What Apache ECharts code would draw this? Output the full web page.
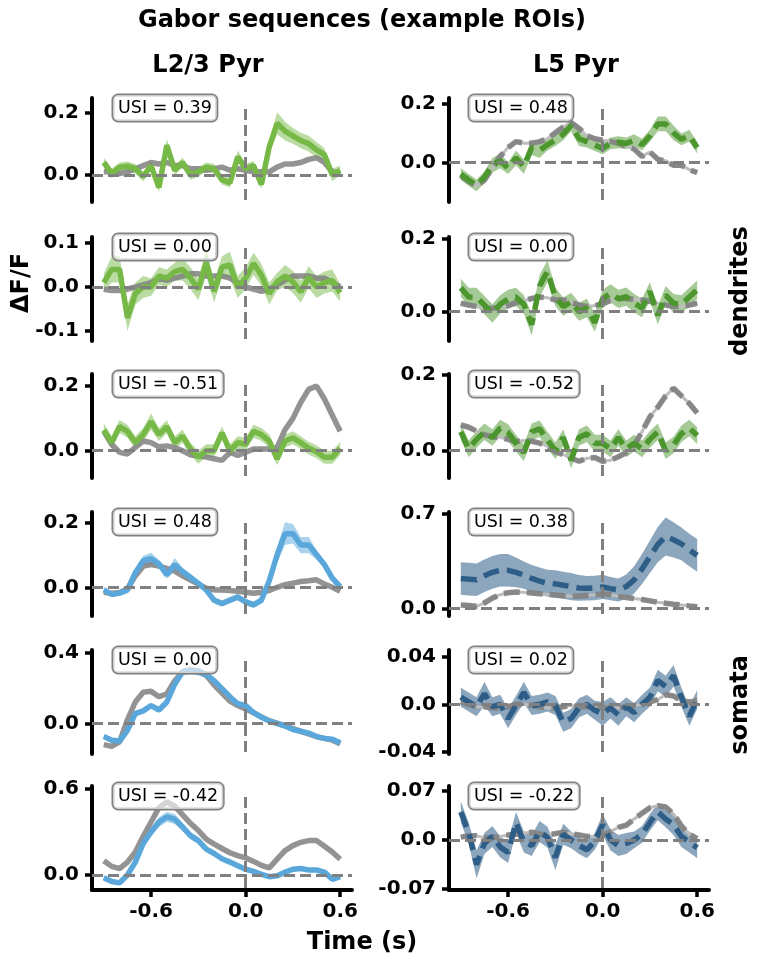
<!DOCTYPE html>
<html><head><meta charset="utf-8">
<script src="https://cdn.jsdelivr.net/npm/echarts@6/dist/echarts.min.js"></script>
<style>html,body{margin:0;padding:0;background:#fff}#c{width:766px;height:967px}</style>
</head><body><div id="c"></div>
<script>
// ---------------- DATA ----------------
const TIME = [-0.9,-0.85,-0.8,-0.75,-0.7,-0.65,-0.6,-0.55,-0.5,-0.45,-0.4,-0.35,-0.3,-0.25,-0.2,-0.15,-0.1,-0.05,0,0.05,0.1,0.15,0.2,0.25,0.3,0.35,0.4,0.45,0.5,0.55,0.6];
const X_TICKS = [-0.6, 0.0, 0.6];

// Dendrites, L2/3 Pyr
const D23_1_EXP   = [0.01,0.01,0.005,0.01,0.02,0.03,0.04,0.035,0.04,0.03,0.03,0.02,0.02,0.015,0.02,0.025,0.015,0.02,0.015,0.01,0.01,0.01,0.025,0.035,0.035,0.04,0.05,0.055,0.04,0.01,0.005];
const D23_1_UNEXP = [0.04,0.005,0.025,0.028,0.02,-0.005,0.03,-0.04,0.095,0.015,0.04,0.0,0.01,0.025,0.02,-0.015,-0.025,0.058,0.02,0.03,-0.03,0.09,0.165,0.14,0.125,0.11,0.10,0.08,0.065,0.0,0.015];
const D23_1_SEM   = [0.015,0.015,0.015,0.015,0.015,0.015,0.015,0.015,0.02,0.015,0.015,0.015,0.015,0.015,0.015,0.015,0.015,0.02,0.015,0.015,0.015,0.02,0.035,0.03,0.025,0.025,0.025,0.025,0.02,0.02,0.015];
const D23_2_EXP   = [-0.005,-0.008,-0.008,-0.005,0.0,0.005,0.01,0.02,0.015,0.02,0.025,0.03,0.03,0.025,0.025,0.025,0.02,0.01,0.0,-0.005,-0.01,-0.005,0.005,0.015,0.025,0.025,0.025,0.02,0.02,0.01,0.0];
const D23_2_UNEXP = [0.01,0.04,0.04,-0.07,-0.015,0.0,0.0,0.025,0.02,0.035,0.04,0.02,-0.005,0.055,-0.01,0.045,0.05,0.0,0.02,0.053,0.027,-0.015,0.012,0.025,0.012,-0.011,0.022,0.0,0.01,0.015,-0.013];
const D23_2_SEM   = [0.02,0.03,0.03,0.03,0.025,0.025,0.02,0.02,0.02,0.02,0.025,0.025,0.025,0.03,0.025,0.025,0.03,0.025,0.025,0.025,0.025,0.025,0.02,0.025,0.025,0.025,0.025,0.025,0.025,0.025,0.02];
const D23_3_EXP   = [0.06,0.02,-0.005,-0.01,0.01,0.03,0.025,0.012,0.015,0.01,0.0,-0.013,-0.015,-0.02,-0.025,-0.03,-0.005,-0.015,-0.005,0.005,0.005,0.005,0.01,0.065,0.1,0.15,0.19,0.2,0.16,0.11,0.06];
const D23_3_UNEXP = [0.064,0.025,0.075,0.06,0.025,0.05,0.09,0.05,0.074,0.025,0.045,0.005,-0.02,0.0,0.0,0.055,0.0,0.025,0.02,0.06,0.05,0.03,-0.025,0.03,0.04,0.025,0.008,-0.003,-0.02,-0.02,0.007];
const D23_3_SEM   = [0.02,0.02,0.02,0.02,0.02,0.02,0.025,0.02,0.02,0.02,0.02,0.02,0.02,0.02,0.02,0.02,0.02,0.02,0.02,0.02,0.02,0.02,0.02,0.02,0.02,0.02,0.02,0.02,0.02,0.02,0.02];

// Dendrites, L5 Pyr
const D5_1_EXP   = [-0.045,-0.065,-0.08,-0.06,-0.02,0.02,0.05,0.07,0.065,0.065,0.07,0.08,0.1,0.12,0.135,0.115,0.09,0.08,0.075,0.07,0.065,0.055,0.045,0.02,0.035,0.01,0.005,-0.01,-0.01,-0.025,-0.035];
const D5_1_UNEXP = [-0.04,-0.06,-0.078,-0.05,-0.01,0.005,-0.02,0.015,-0.015,0.05,0.04,0.06,0.075,0.095,0.125,0.08,0.07,0.058,0.047,0.064,0.068,0.064,0.075,0.06,0.09,0.13,0.13,0.1,0.078,0.09,0.05];
const D5_1_SEM   = [0.02,0.02,0.02,0.02,0.025,0.025,0.02,0.025,0.025,0.025,0.025,0.02,0.02,0.02,0.02,0.025,0.02,0.02,0.02,0.02,0.02,0.02,0.02,0.02,0.02,0.025,0.025,0.025,0.02,0.02,0.02];
const D5_2_EXP   = [0.023,0.018,0.014,0.01,0.009,0.012,0.016,0.025,0.03,0.036,0.04,0.038,0.032,0.032,0.025,0.018,0.014,0.016,0.023,0.03,0.036,0.036,0.034,0.032,0.028,0.023,0.018,0.014,0.014,0.018,0.023];
const D5_2_UNEXP = [0.065,0.04,0.04,0.018,-0.005,0.02,0.035,0.04,0.02,-0.035,0.07,0.11,0.04,0.014,0.027,0.0,0.01,-0.03,0.035,0.05,0.035,0.041,0.023,0.01,0.055,-0.01,0.045,0.023,0.02,0.04,0.06];
const D5_2_SEM   = [0.025,0.025,0.025,0.025,0.025,0.025,0.025,0.025,0.025,0.03,0.03,0.03,0.025,0.025,0.025,0.025,0.025,0.025,0.025,0.025,0.025,0.025,0.025,0.025,0.025,0.025,0.025,0.025,0.025,0.025,0.025];
const D5_3_EXP   = [0.068,0.062,0.052,0.042,0.037,0.035,0.03,0.024,0.027,0.025,0.02,0.012,-0.003,-0.01,-0.02,-0.028,-0.02,-0.018,-0.028,-0.025,-0.016,-0.005,0.015,0.05,0.09,0.115,0.145,0.165,0.145,0.125,0.1];
const D5_3_UNEXP = [0.05,0.005,0.03,0.05,0.035,0.06,0.048,0.02,-0.005,0.05,0.058,0.028,0.0,0.035,-0.025,0.035,0.045,0.02,0.02,0.005,0.035,0.005,0.02,0.005,0.03,0.05,0.0,0.015,0.045,0.06,0.04];
const D5_3_SEM   = [0.022,0.022,0.022,0.022,0.022,0.022,0.022,0.022,0.022,0.022,0.022,0.022,0.022,0.022,0.022,0.022,0.022,0.022,0.022,0.022,0.022,0.022,0.022,0.022,0.022,0.022,0.022,0.022,0.022,0.022,0.022];

// Somata, L2/3 Pyr
const S23_1_EXP   = [-0.015,-0.018,-0.016,-0.005,0.035,0.065,0.07,0.065,0.058,0.05,0.035,0.022,0.01,-0.003,-0.008,-0.008,-0.01,-0.012,-0.015,-0.018,-0.015,-0.01,0.0,0.008,0.013,0.018,0.02,0.023,0.01,0.0,-0.012];
const S23_1_UNEXP = [-0.008,-0.022,-0.018,-0.008,0.045,0.082,0.088,0.072,0.038,0.07,0.048,0.03,0.012,-0.008,-0.04,-0.05,-0.04,-0.03,-0.045,-0.054,-0.04,0.02,0.1,0.165,0.165,0.13,0.13,0.1,0.07,0.028,0.002];
const S23_1_SEM   = [0.008,0.008,0.008,0.01,0.012,0.015,0.018,0.012,0.012,0.02,0.012,0.012,0.01,0.01,0.01,0.01,0.01,0.01,0.01,0.01,0.01,0.015,0.025,0.035,0.03,0.025,0.025,0.015,0.012,0.01,0.008];
const S23_2_EXP   = [-0.12,-0.13,-0.105,0.02,0.12,0.175,0.18,0.15,0.165,0.24,0.29,0.3,0.295,0.27,0.215,0.17,0.125,0.1,0.08,0.06,0.035,0.015,0.0,-0.015,-0.03,-0.045,-0.06,-0.075,-0.085,-0.095,-0.115];
const S23_2_UNEXP = [-0.075,-0.095,-0.1,-0.04,0.055,0.07,0.1,0.075,0.12,0.22,0.29,0.295,0.29,0.275,0.24,0.195,0.15,0.11,0.1,0.06,0.035,0.012,0.0,-0.015,-0.035,-0.045,-0.055,-0.075,-0.085,-0.09,-0.11];
const S23_2_SEM   = [0.015,0.015,0.015,0.015,0.015,0.015,0.015,0.015,0.015,0.02,0.02,0.02,0.02,0.02,0.015,0.015,0.015,0.015,0.015,0.015,0.012,0.012,0.012,0.012,0.012,0.012,0.012,0.012,0.012,0.012,0.012];
const S23_3_EXP   = [0.1,0.06,0.045,0.09,0.16,0.27,0.37,0.47,0.51,0.48,0.42,0.36,0.31,0.25,0.215,0.185,0.155,0.135,0.12,0.095,0.067,0.05,0.11,0.17,0.205,0.228,0.24,0.24,0.2,0.16,0.11];
const S23_3_UNEXP = [-0.02,-0.045,-0.055,0.0,0.09,0.22,0.3,0.37,0.405,0.39,0.335,0.275,0.24,0.18,0.15,0.113,0.09,0.065,0.04,0.025,0.005,-0.012,-0.005,0.02,0.04,0.045,0.035,0.035,0.02,-0.03,-0.012];
const S23_3_SEM   = [0.015,0.015,0.015,0.015,0.02,0.025,0.03,0.035,0.035,0.035,0.03,0.025,0.025,0.02,0.02,0.015,0.015,0.015,0.015,0.012,0.012,0.012,0.012,0.012,0.012,0.012,0.012,0.012,0.012,0.012,0.012];

// Somata, L5 Pyr
const S5_1_EXP   = [0.025,0.02,0.015,0.04,0.075,0.1,0.115,0.12,0.118,0.112,0.108,0.102,0.098,0.092,0.088,0.09,0.095,0.1,0.108,0.1,0.088,0.08,0.072,0.065,0.055,0.045,0.037,0.03,0.025,0.018,0.012];
const S5_1_UNEXP = [0.22,0.215,0.21,0.24,0.265,0.28,0.28,0.265,0.245,0.22,0.2,0.185,0.18,0.17,0.16,0.15,0.148,0.15,0.158,0.145,0.135,0.16,0.21,0.29,0.38,0.47,0.53,0.505,0.475,0.43,0.39];
const S5_1_SEM   = [0.12,0.12,0.12,0.12,0.12,0.12,0.12,0.11,0.1,0.1,0.1,0.1,0.1,0.1,0.1,0.095,0.09,0.09,0.09,0.085,0.085,0.09,0.1,0.11,0.12,0.13,0.14,0.13,0.12,0.12,0.12];
const S5_2_EXP   = [0.002,0.0,-0.002,-0.002,-0.003,-0.003,-0.002,0.0,0.0,-0.001,-0.002,-0.003,-0.003,-0.002,-0.001,-0.002,-0.002,-0.002,-0.003,-0.003,-0.003,-0.002,-0.001,0.0,0.002,0.004,0.008,0.007,0.003,0.002,0.003];
const S5_2_UNEXP = [0.006,0.002,-0.002,0.009,-0.002,0.0,-0.012,-0.001,0.01,-0.001,0.0,0.002,-0.001,-0.015,-0.012,-0.003,0.0,-0.005,-0.008,-0.003,-0.009,-0.002,-0.007,0.0,0.006,0.02,0.015,0.024,0.006,-0.01,0.004];
const S5_2_SEM   = [0.008,0.008,0.008,0.01,0.008,0.008,0.008,0.008,0.009,0.008,0.008,0.008,0.008,0.008,0.008,0.008,0.008,0.008,0.01,0.009,0.009,0.008,0.008,0.008,0.008,0.009,0.009,0.009,0.008,0.008,0.008];
const S5_3_EXP   = [0.004,0.006,0.006,0.003,0.003,0.005,0.007,0.008,0.01,0.011,0.008,0.007,0.009,0.011,0.009,0.007,0.005,0.005,0.006,0.012,0.018,0.021,0.03,0.038,0.046,0.049,0.047,0.037,0.02,0.008,0.002];
const S5_3_UNEXP = [0.04,0.01,-0.035,-0.005,0.005,-0.01,-0.018,0.025,-0.003,-0.008,0.012,0.004,-0.025,0.008,0.0,-0.008,-0.014,-0.002,0.022,0.0,-0.008,-0.005,0.0,0.008,0.025,0.04,0.03,0.022,0.005,-0.003,-0.011];
const S5_3_SEM   = [0.015,0.015,0.02,0.015,0.015,0.015,0.015,0.015,0.015,0.015,0.015,0.015,0.018,0.015,0.012,0.012,0.012,0.012,0.015,0.015,0.015,0.015,0.012,0.012,0.012,0.012,0.012,0.015,0.015,0.015,0.015];

// USI labels and y tick labels
const USI_L23 = ['USI = 0.39','USI = 0.00','USI = -0.51','USI = 0.48','USI = 0.00','USI = -0.42'];
const USI_L5  = ['USI = 0.48','USI = 0.00','USI = -0.52','USI = 0.38','USI = 0.02','USI = -0.22'];
const YTICKS_L23 = [[0,0.2],[-0.1,0,0.1],[0,0.2],[0,0.2],[0,0.4],[0,0.6]];
const YTICKS_L5  = [[0,0.2],[0,0.2],[0,0.2],[0,0.7],[-0.04,0,0.04],[-0.07,0,0.07]];

// ---------------- LAYOUT / STYLE ----------------
const FONT = '"DejaVu Sans", sans-serif';
const TOPS = [98,237,374,512,650,786];
const H = 104, W = 260, LEFTS = [92, 449];
const XMIN = -0.975, XMAX = 0.675;
const RANGES_L23 = [[-0.0861,0.2456],[-0.1227,0.1136],[-0.0845,0.2375],[-0.0883,0.2317],[-0.173,0.413],[-0.1047,0.621]];
const RANGES_L5  = [[-0.1346,0.218],[-0.0799,0.2037],[-0.0722,0.2029],[-0.0567,0.7097],[-0.0417,0.0456],[-0.0714,0.077]];
const STY = {
  d23:{line:'#76b947', band:'rgba(118,185,71,0.5)', dashed:false},
  d5: {line:'#4b962d', band:'rgba(75,150,45,0.5)', dashed:true},
  s23:{line:'#5aa8db', band:'rgba(90,168,219,0.5)', dashed:false},
  s5: {line:'#2e5e87', band:'rgba(46,94,135,0.55)', dashed:true}
};

const panels = [
  {r:0,c:0,exp:D23_1_EXP,un:D23_1_UNEXP,sem:D23_1_SEM,k:'d23'},
  {r:1,c:0,exp:D23_2_EXP,un:D23_2_UNEXP,sem:D23_2_SEM,k:'d23'},
  {r:2,c:0,exp:D23_3_EXP,un:D23_3_UNEXP,sem:D23_3_SEM,k:'d23'},
  {r:3,c:0,exp:S23_1_EXP,un:S23_1_UNEXP,sem:S23_1_SEM,k:'s23'},
  {r:4,c:0,exp:S23_2_EXP,un:S23_2_UNEXP,sem:S23_2_SEM,k:'s23'},
  {r:5,c:0,exp:S23_3_EXP,un:S23_3_UNEXP,sem:S23_3_SEM,k:'s23'},
  {r:0,c:1,exp:D5_1_EXP,un:D5_1_UNEXP,sem:D5_1_SEM,k:'d5'},
  {r:1,c:1,exp:D5_2_EXP,un:D5_2_UNEXP,sem:D5_2_SEM,k:'d5'},
  {r:2,c:1,exp:D5_3_EXP,un:D5_3_UNEXP,sem:D5_3_SEM,k:'d5'},
  {r:3,c:1,exp:S5_1_EXP,un:S5_1_UNEXP,sem:S5_1_SEM,k:'s5'},
  {r:4,c:1,exp:S5_2_EXP,un:S5_2_UNEXP,sem:S5_2_SEM,k:'s5'},
  {r:5,c:1,exp:S5_3_EXP,un:S5_3_UNEXP,sem:S5_3_SEM,k:'s5'}
];

const pairs = ys => TIME.map((t,i)=>[t, ys[i]]);
const fmt = v => (v === 0 ? '0.0' : String(v));

const grid=[], xAxis=[], yAxis=[], series=[], graphic=[];
panels.forEach((p,i)=>{
  const st = STY[p.k];
  const rng = p.c===0 ? RANGES_L23[p.r] : RANGES_L5[p.r];
  const ticks = p.c===0 ? YTICKS_L23[p.r] : YTICKS_L5[p.r];
  const bottom = p.r === 5;
  grid.push({left:LEFTS[p.c], top:TOPS[p.r], width:W, height:H});
  xAxis.push({type:'value', gridIndex:i, min:XMIN, max:XMAX, show:bottom,
    axisLine:{onZero:false, lineStyle:{color:'#000', width:4}},
    axisTick:{show:true, length:7, lineStyle:{color:'#000', width:3.5}, customValues:X_TICKS},
    axisLabel:{customValues:X_TICKS, formatter:fmt, color:'#000', fontWeight:'bold', fontSize:20, fontFamily:FONT, margin:12},
    splitLine:{show:false}});
  yAxis.push({type:'value', gridIndex:i, min:rng[0], max:rng[1],
    axisLine:{show:true, onZero:false, lineStyle:{color:'#000', width:4}},
    axisTick:{show:true, length:7, lineStyle:{color:'#000', width:3.5}, customValues:ticks},
    axisLabel:{customValues:ticks, formatter:fmt, color:'#000', fontWeight:'bold', fontSize:20, fontFamily:FONT, margin:13},
    splitLine:{show:false}});
  const lower = p.un.map((v,j)=> v - p.sem[j]);
  const upper = p.un.map((v,j)=> v + p.sem[j]);
  const base = {xAxisIndex:i, yAxisIndex:i, type:'line', symbol:'none', silent:true, animation:false};
  if (st.dashed) {
    series.push(Object.assign({}, base, {data:pairs(p.exp), lineStyle:{color:'#bdbdbd', width:3}}));
  }
  series.push(Object.assign({}, base, {data:pairs(p.exp),
    lineStyle:{color:'#808080', width:5.5, opacity:st.dashed?0.9:0.85, type: st.dashed?[16,7]:'solid'}}));
  // SEM band as polygon through the axis scales
  series.push({type:'custom', xAxisIndex:i, yAxisIndex:i, silent:true, animation:false,
    data: TIME.map((t,j)=>[t, lower[j], upper[j]]), encode:{x:0, y:[1,2]},
    renderItem:(params, api)=>{
      if (params.dataIndex !== 0) return null;
      const pts = [];
      for (let j=0;j<TIME.length;j++) pts.push(api.coord([TIME[j], upper[j]]));
      for (let j=TIME.length-1;j>=0;j--) pts.push(api.coord([TIME[j], lower[j]]));
      return {type:'polygon', shape:{points:pts}, style:{fill:st.band}};
    }});
  const span = rng[1]-rng[0];
  series.push(Object.assign({}, base, {data:pairs(p.un),
    lineStyle:{color:st.line, width:5.5, type: st.dashed?[16,8]:'solid', cap:'butt'},
    markLine:{silent:true, symbol:['none','none'], label:{show:false}, animation:false,
      lineStyle:{color:'#808080', width:3, type:[11,5], opacity:1},
      data:[{yAxis:0}, [{coord:[0, rng[0]+0.02*span]}, {coord:[0, rng[1]-0.07*span]}]]}}));
  const usi = p.c===0 ? USI_L23[p.r] : USI_L5[p.r];
  graphic.push({type:'text', x: p.c===0 ? 113 : 469, y: TOPS[p.r]-3, z:100,
    style:{text:usi, font:'17.5px ' + FONT, fill:'#000', align:'left', verticalAlign:'top',
      backgroundColor:'rgba(255,255,255,0.6)', borderColor:'#808080', borderWidth:1.5, borderRadius:5, padding:[4,5,4,5]}});
});

const heading = (text, x, y, rot) => ({type:'text', x, y, rotation: rot||0, z:100,
  style:{text, font:'bold 24px ' + FONT, fill:'#000', align:'center', verticalAlign:'middle'}});
graphic.push(heading('Gabor sequences (example ROIs)', 362, 21));
graphic.push(heading('L2/3 Pyr', 208, 66));
graphic.push(heading('L5 Pyr', 576, 66));
graphic.push(heading('ΔF/F', 22, 283, Math.PI/2));
graphic.push(heading('dendrites', 741, 291, Math.PI/2));
graphic.push(heading('somata', 741, 705, Math.PI/2));
graphic.push(heading('Time (s)', 362, 943));

const chart = echarts.init(document.getElementById('c'), null, {renderer:'canvas'});
chart.setOption({animation:false, backgroundColor:'#fff', grid, xAxis, yAxis, series, graphic});
</script></body></html>
